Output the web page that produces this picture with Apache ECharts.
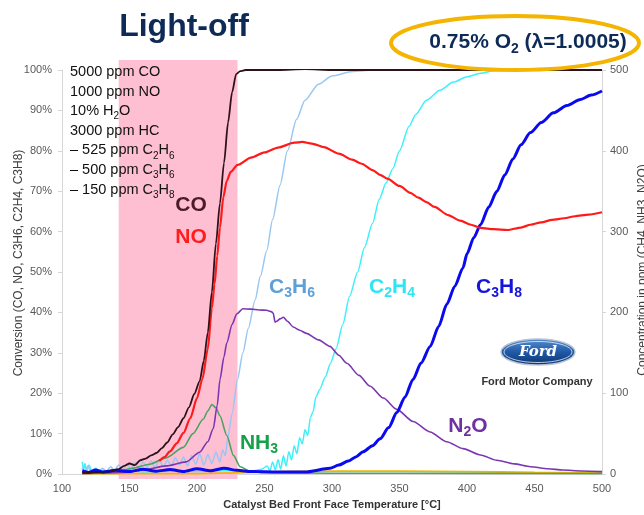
<!DOCTYPE html>
<html>
<head>
<meta charset="utf-8">
<script src="https://cdn.jsdelivr.net/npm/echarts@6/dist/echarts.min.js"></script>
<style>
html,body{margin:0;padding:0;background:#fff;}
#chart{width:644px;height:515px;}
</style>
</head>
<body>
<div id="chart"></div>
<script>
// ---------- data (temperature °C, value) ----------
const xTicks = [100,150,200,250,300,350,400,450,500];
const lightOffBand = [142, 230];

// CO conversion (%)
const coT = [115,125,135,142,146,150,154,158,162,166,170,174,178,182,186,190,194,198,202,205,208,211,214,217,220,223,226,229,232,236,240,260,280,300,330,360,400,450,500];
const coV = [0.3,0.5,0.6,1.2,2.0,2.6,2.2,3.4,3.8,4.6,5.2,6.4,7.8,9.8,11.6,13.8,16.5,19.8,23,28,35,45,57,67,77,87,94.5,99,99.7,100,100,100,100.2,100,100,100,100,100,100];

// NO conversion (%)
const noT = [172,176,180,185,190,195,200,204,208,211,213,215,217,219.5,222,225,230,240,250,260,272,278,285,294,305,315,322,330,336,341,350,358,364,370,376,386,395,403,410,420,430,440,447,455,463,472,480,490,500];
const noV = [3.2,4.2,5.6,7.6,10.2,13.8,18.8,23.5,31,41,47,54,61,68.5,72.5,74.8,76.5,78.3,79.6,80.8,82,82.2,81.8,80.9,79.3,77.8,76.8,75.2,74,73.1,71.3,69.6,68.4,67.3,66.1,64.1,62.7,61.7,60.9,60.6,60.4,61,61.7,62.3,62.9,63.3,63.8,64.2,64.8];

// C3H6 conversion (%)
const c3h6T = [115,117,119,121,124,127,130,133,136,139,142,145,148,151,154,157,160,163,166,169,172,175,178,181,184,187,190,193,196,199,202,205,208,211,214,217,219,221,222.7,226,230,234,238,243,247,251.6,256,261.5,267,273.8,280,290,300,315,330,400,500];
const c3h6V = [1.5,0.5,2.0,0.8,1.2,0.6,1.4,0.7,1.8,0.9,2.2,1.0,2.6,1.2,2.8,1.4,3.0,1.6,3.2,1.5,3.6,1.8,3.4,2.0,4.0,2.2,4.2,2.0,4.6,2.4,5.0,2.2,4.8,2.6,5.4,3.0,6.0,4.5,8.7,15,23.4,30,36,43,49,55.2,63,71.5,80,87.8,92.5,96.5,98.5,99.6,100,100,100];

// C2H4 conversion (%)
const c2h4T = [115,116,117,118,120,122,125,128,131,134,137,140,150,160,180,200,220,240,248,252,254,256,258,260,262,264,266,268,270,272,274,276,278,280,282,284,286,288,291,295,299,303,308,313,319,324,330,335,340,345,350,357,362,370,380,390,400,410,420,440,500];
const c2h4V = [3.0,1.0,2.6,0.8,2.2,0.6,1.4,0.5,1.0,0.4,1.2,0.6,0.8,0.5,0.7,0.6,0.9,0.7,1.2,2.0,0.8,3.0,1.0,3.5,1.2,4.5,2.0,5.5,3.5,7.0,5.0,9.0,7.5,11,9.5,14,15.5,19,21,24,27.5,31,37,44,50,56,62,68,72,75.5,80,86,89,92.5,95,97,98.3,99.2,99.8,100,100];

// C3H8 conversion (%)
const c3h8T = [115,120,125,130,140,150,160,170,180,190,200,210,220,230,240,260,280,298.5,305,312,318,323,330,335.6,342,348,354,360,366,372.6,379,385,391,397,400,405,410,416,422,428,434,440,447,455,464,474,484,492,500];
const c3h8V = [0.8,0.4,1.0,0.5,0.9,0.6,1.2,0.7,1.1,0.6,1.3,0.8,1.4,0.9,0.6,0.5,0.5,1.4,2.2,3.2,4.3,5.5,7,8.7,11.5,15.2,19,23.4,27.5,31.5,36.5,42,46.5,51,54.5,58.5,61.7,66,69.9,74,78,81.5,84.5,87,89.4,91.2,92.7,93.8,94.8];

// NH3 concentration (ppm)
const nh3T = [115,130,140,152,165,177,190,197,204.7,208,211,214,217,222,227,232,239,250,300,400,500];
const nh3V = [1,1,3,7,12,20,33,50,68,78,86,82,72,48,23,9,3.7,1.5,1,0.8,0.5];

// N2O concentration (ppm)
const n2oT = [115,145,160,177,192,202,208,212,215,217,220,222,226,229.4,234,240,246,251.6,255,256.5,257.8,259,261.5,264,267,271.3,276,281,290,298.5,305,311,320,328,338,348,360,372.6,385,397,410,422,435,447,460,471,485,500];
const n2oV = [0.5,2,5,10,15,27,40,56,85,117,145,162,185,198,204.5,204,203,202.6,201,199,188,189,192,194,189,182,178,174,166,158,147,137,122,109,94,80,65,52,40,31.4,23.5,17,12.5,9,6.5,5,3.8,3];

// CH4 concentration (ppm)
const ch4T = [115,200,230,260,300,350,400,450,500];
const ch4V = [0.5,0.5,1.5,3,3.5,3.5,3,2,1.5];

const feedLines = ['5000 ppm CO','1000 ppm NO','10% H{s|2}O','3000 ppm HC','\u2013 525 ppm C{s|2}H{s|6}','\u2013 500 ppm C{s|3}H{s|6}','\u2013 150 ppm C{s|3}H{s|8}'];

// ---------- chart ----------
const pairs = (t, v) => t.map((x, i) => [x, v[i]]);
const chart = echarts.init(document.getElementById('chart'));
const FONT = 'Arial, "Liberation Sans", sans-serif';
const axisGray = '#d6d6d6';
const labelGray = '#595959';

function lineSeries(name, t, v, color, width, yIdx, z) {
  return {
    name, type: 'line', xAxisIndex: 0, yAxisIndex: yIdx,
    data: pairs(t, v), showSymbol: false, symbol: 'none',
    smooth: 0.25, smoothMonotone: 'x',
    lineStyle: { color, width }, itemStyle: { color },
    z: z, silent: true, animation: false
  };
}

const graphics = [];
// title
graphics.push({ type: 'text', x: 184, y: 27, z: 100,
  style: { text: 'Light-off', font: 'bold 32px ' + FONT, fill: '#0e2b57', align: 'center', verticalAlign: 'middle' } });
// oval with O2 text
graphics.push({ type: 'ellipse', shape: { cx: 515, cy: 43, rx: 124, ry: 27 }, z: 100,
  style: { fill: 'none', stroke: '#f4b400', lineWidth: 4 } });
graphics.push({ type: 'text', x: 528, y: 42, z: 101,
  style: { text: '0.75% O{s|2} (\u03bb=1.0005)', font: 'bold 21px ' + FONT, fill: '#0e2b57', align: 'center', verticalAlign: 'middle', lineHeight: 29,
    rich: { s: { fontSize: 14, fontWeight: 'bold', fill: '#0e2b57', fontFamily: FONT, verticalAlign: 'bottom', lineHeight: 29 } } } });
// feed composition
feedLines.forEach((ln, i) => {
  graphics.push({ type: 'text', x: 70, y: 72 + i * 19.6, z: 100,
    style: { text: ln, font: '14.5px ' + FONT, fill: '#111', align: 'left', verticalAlign: 'middle', lineHeight: 21,
      rich: { s: { fontSize: 10, fill: '#111', fontFamily: FONT, verticalAlign: 'bottom', lineHeight: 21 } } } });
});
// curve labels
const curveLabels = [
  ['CO', 191, 205, '#4b1a2d'],
  ['NO', 191, 237, '#ff1c1c'],
  ['C{s|3}H{s|6}', 292, 287, '#5f9fd6'],
  ['C{s|2}H{s|4}', 392, 287, '#2ee6f2'],
  ['C{s|3}H{s|8}', 499, 287, '#1414dc'],
  ['NH{s|3}', 259, 443, '#16a04c'],
  ['N{s|2}O', 468, 426, '#7030a0']
];
curveLabels.forEach(([t, x, y, c]) => {
  graphics.push({ type: 'text', x, y, z: 100,
    style: { text: t, font: 'bold 21px ' + FONT, fill: c, align: 'center', verticalAlign: 'middle', lineHeight: 26,
      rich: { s: { fontSize: 14, fontWeight: 'bold', fill: c, fontFamily: FONT, verticalAlign: 'bottom', lineHeight: 26 } } } });
});
// Ford logo
graphics.push({ type: 'ellipse', shape: { cx: 538, cy: 352, rx: 37, ry: 13 }, z: 100,
  style: { fill: new echarts.graphic.LinearGradient(0, 0, 0, 1, [{ offset: 0, color: '#5a8fd0' }, { offset: 0.5, color: '#1f5aa6' }, { offset: 1, color: '#0d3370' }]),
    stroke: '#b8c4d6', lineWidth: 1.5 } });
graphics.push({ type: 'ellipse', shape: { cx: 538, cy: 352, rx: 34, ry: 10.5 }, z: 101,
  style: { fill: 'none', stroke: '#e8eef8', lineWidth: 0.8 } });
graphics.push({ type: 'text', x: 538, y: 352, z: 102,
  style: { text: 'Ford', font: 'italic bold 15px "DejaVu Serif", serif', fill: '#ffffff', align: 'center', verticalAlign: 'middle' } });
graphics.push({ type: 'text', x: 537, y: 382, z: 100,
  style: { text: 'Ford Motor Company', font: 'bold 11px ' + FONT, fill: '#333', align: 'center', verticalAlign: 'middle' } });
// axis names
graphics.push({ type: 'text', x: 19, y: 263, rotation: Math.PI / 2, z: 100,
  style: { text: 'Conversion (CO, NO, C3H6, C2H4, C3H8)', font: '12px ' + FONT, fill: '#404040', align: 'center', verticalAlign: 'middle' } });
graphics.push({ type: 'text', x: 643, y: 270, rotation: Math.PI / 2, z: 100,
  style: { text: 'Concentration in ppm (CH4, NH3, N2O)', font: '12px ' + FONT, fill: '#404040', align: 'center', verticalAlign: 'middle' } });

const option = {
  animation: false,
  backgroundColor: '#ffffff',
  grid: [
    { left: 62, right: 42, top: 70, bottom: 36, containLabel: false },
    { left: 62, right: 42, top: 60, bottom: 36, containLabel: false }
  ],
  xAxis: [
    { type: 'value', gridIndex: 0, min: 100, max: 500, interval: 50,
      axisLine: { lineStyle: { color: axisGray } }, axisTick: { show: false },
      splitLine: { show: false },
      axisLabel: { color: labelGray, fontSize: 11, fontFamily: FONT, margin: 9 },
      name: 'Catalyst Bed Front Face Temperature [\u00b0C]', nameLocation: 'middle', nameGap: 25,
      nameTextStyle: { fontWeight: 'bold', fontSize: 11, color: '#333', fontFamily: FONT } },
    { type: 'value', gridIndex: 1, min: 100, max: 500, show: false }
  ],
  yAxis: [
    { type: 'value', gridIndex: 0, min: 0, max: 100, interval: 10, position: 'left',
      axisLine: { show: true, lineStyle: { color: axisGray } },
      axisTick: { show: true, length: 4, lineStyle: { color: axisGray } },
      splitLine: { show: false },
      axisLabel: { formatter: '{value}%', color: labelGray, fontSize: 11, fontFamily: FONT, margin: 10 } },
    { type: 'value', gridIndex: 0, min: 0, max: 500, interval: 100, position: 'right',
      axisLine: { show: true, lineStyle: { color: axisGray } },
      axisTick: { show: true, length: 4, lineStyle: { color: axisGray } },
      splitLine: { show: false },
      axisLabel: { color: labelGray, fontSize: 11, fontFamily: FONT, margin: 8 } },
    { type: 'value', gridIndex: 1, min: 0, max: 1, show: false }
  ],
  series: [
    { name: 'band', type: 'line', xAxisIndex: 1, yAxisIndex: 2, data: [[100, 0]], symbol: 'none', showSymbol: false,
      lineStyle: { opacity: 0 }, z: 0, silent: true,
      markArea: { silent: true, itemStyle: { color: '#ffbfd3' },
        data: [[{ xAxis: lightOffBand[0] }, { xAxis: lightOffBand[1] }]] } },
    lineSeries('C2H4', c2h4T, c2h4V, '#3ff0f8', 1.5, 0, 2),
    lineSeries('C3H6', c3h6T, c3h6V, '#98c8f2', 1.5, 0, 3),
    lineSeries('CH4', ch4T, ch4V, '#f0b400', 1.8, 1, 3),
    lineSeries('NH3', nh3T, nh3V, '#4aa362', 1.6, 1, 4),
    lineSeries('N2O', n2oT, n2oV, '#7b36b2', 1.6, 1, 4),
    lineSeries('C3H8', c3h8T, c3h8V, '#0a0af0', 3, 0, 5),
    lineSeries('NO', noT, noV, '#ff1a1a', 2.2, 0, 6),
    lineSeries('CO', coT, coV, '#2e1219', 1.8, 0, 7)
  ],
  graphic: graphics
};
chart.setOption(option);
</script>
</body>
</html>
